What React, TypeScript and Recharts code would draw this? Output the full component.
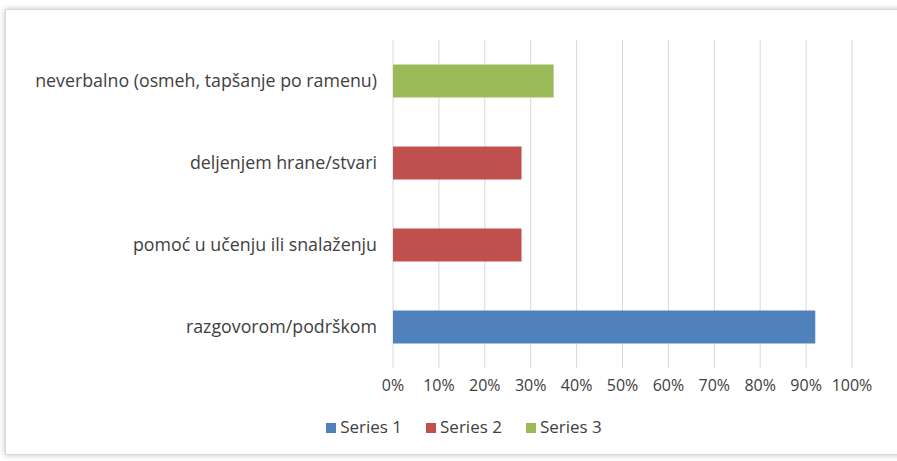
import React from 'react';
import { BarChart, Bar, XAxis, YAxis, CartesianGrid, Legend } from 'recharts';

const categories = [
  'neverbalno (osmeh, tapšanje po ramenu)',
  'deljenjem hrane/stvari',
  'pomoć u učenju ili snalaženju',
  'razgovorom/podrškom',
];
const series1 = [0, 0, 0, 0.92];
const series2 = [0, 0.28, 0.28, 0];
const series3 = [0.35, 0, 0, 0];
const xTicks = [0, 0.1, 0.2, 0.3, 0.4, 0.5, 0.6, 0.7, 0.8, 0.9, 1];

const data = categories.map((name, i) => ({
  name,
  s1: series1[i],
  s2: series2[i],
  s3: series3[i],
}));

const font = '"Open Sans", "Noto Sans", sans-serif';
const textColor = '#404040';

const App: React.FC = () => {
  return (
    <div style={{ position: 'absolute', left: 0, top: 0, width: 897, height: 461, background: '#fff' }}>
      <div
        style={{
          position: 'absolute',
          left: 5,
          top: 9,
          width: 900,
          height: 444,
          border: '1px solid #d9d9d9',
          boxShadow: '0 0 6px rgba(0,0,0,0.25)',
          background: '#fff',
        }}
      />
      <div style={{ position: 'absolute', left: 0, top: 0 }}>
        <BarChart
          width={897}
          height={461}
          data={data}
          layout="vertical"
          barCategoryGap="30%"
          margin={{ top: 40, right: 45, bottom: 16, left: 0 }}
        >
          <CartesianGrid horizontal={false} stroke="#d9d9d9" />
          <XAxis
            type="number"
            domain={[0, 1]}
            ticks={xTicks}
            tickFormatter={(v: number) => `${Math.round(v * 100)}%`}
            axisLine={false}
            tickLine={false}
            height={47}
            tickMargin={6}
            tick={{ fill: textColor, fontSize: 16, fontFamily: font }}
          />
          <YAxis
            type="category"
            dataKey="name"
            width={393}
            axisLine={false}
            tickLine={false}
            tick={{ fill: textColor, fontSize: 17.8, fontFamily: font }}
            tickMargin={10}
          />
          <Legend
            height={30}
            iconType="square"
            iconSize={10}
            wrapperStyle={{ fontFamily: font, fontSize: 17, color: textColor, paddingLeft: 100, boxSizing: 'border-box' }}
            formatter={(value: string) => <span style={{ color: textColor, marginRight: 14 }}>{value}</span>}
          />
          <Bar dataKey="s1" name="Series 1" stackId="a" fill="#4f81bd" isAnimationActive={false} />
          <Bar dataKey="s2" name="Series 2" stackId="a" fill="#c0504d" isAnimationActive={false} />
          <Bar dataKey="s3" name="Series 3" stackId="a" fill="#9bbb59" isAnimationActive={false} />
        </BarChart>
      </div>
    </div>
  );
};

export default App;
